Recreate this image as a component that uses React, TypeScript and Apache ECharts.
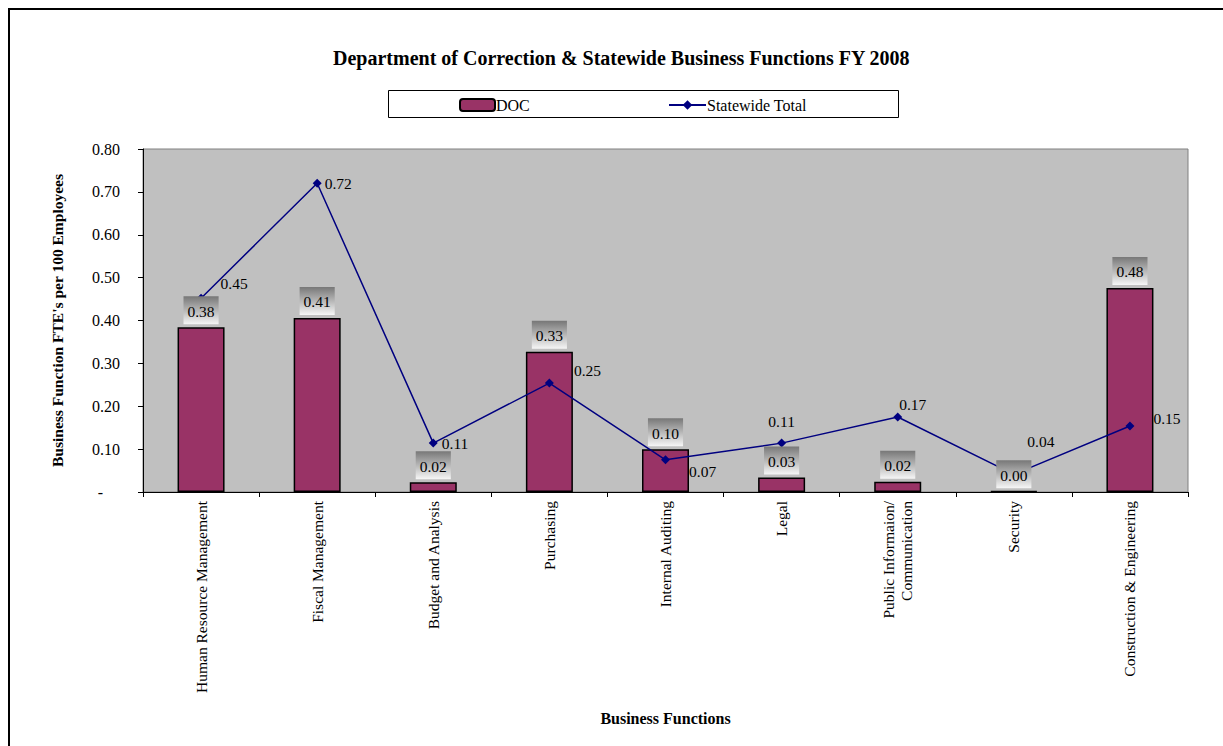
import React, { useEffect, useRef } from "react";
import * as echarts from "echarts";

const categories = [
  "Human Resource Management",
  "Fiscal Management",
  "Budget and Analysis",
  "Purchasing",
  "Internal Auditing",
  "Legal",
  "Public Informaion/\nCommunication",
  "Security",
  "Construction & Engineering",
];
const docValues = [0.384, 0.406, 0.023, 0.327, 0.1, 0.034, 0.024, 0.002, 0.476];
const statewideValues = [0.452, 0.72, 0.114, 0.254, 0.075, 0.114, 0.175, 0.041, 0.154];
const yTicks = [0, 0.1, 0.2, 0.3, 0.4, 0.5, 0.6, 0.7, 0.8];

// label placement for the line series (position, offset)
const lineLabelPlacement: [string, number[]][] = [
  ["right", [10, -15]],
  ["right", [-2, 0]],
  ["right", [-1, 0]],
  ["right", [15, -13]],
  ["right", [14, 12]],
  ["top", [0, -4]],
  ["top", [15, 5]],
  ["top", [27, -15]],
  ["right", [14, -7]],
];

const FONT = "'Liberation Serif', 'Times New Roman', serif";

export default function App() {
  const ref = useRef<HTMLDivElement>(null);
  useEffect(() => {
    if (!ref.current) return;
    const chart = echarts.init(ref.current, null, { renderer: "svg" });
    const grad = new echarts.graphic.LinearGradient(0, 0, 0, 1, [
      { offset: 0, color: "#777777" },
      { offset: 1, color: "#f6f6f6" },
    ]);
    chart.setOption({
      animation: false,
      backgroundColor: "#ffffff",
      textStyle: { fontFamily: FONT, color: "#000" },
      title: {
        text: "Department of Correction & Statewide Business Functions FY 2008",
        left: 328,
        top: 43,
        textStyle: { fontFamily: FONT, fontSize: 20, fontWeight: "bold", color: "#000" },
      },
      graphic: [
        {
          type: "rect",
          z: -10,
          shape: { x: 9, y: 9, width: 1300, height: 800 },
          style: { fill: "none", stroke: "#000", lineWidth: 2 },
        },
        {
          type: "rect",
          z: -10,
          shape: { x: 388.5, y: 90.5, width: 510, height: 27 },
          style: { fill: "#fff", stroke: "#000", lineWidth: 1 },
        },
      ],
      legend: [
        {
          data: ["DOC"],
          left: 459,
          top: 97,
          padding: 0,
          itemWidth: 35,
          itemHeight: 12,
          itemGap: 2,
          textStyle: { fontFamily: FONT, fontSize: 16, color: "#000", padding: [0, 0, 0, -4] },
        },
        {
          data: ["Statewide Total"],
          left: 668,
          top: 97,
          padding: 0,
          itemWidth: 37,
          itemHeight: 12,
          textStyle: { fontFamily: FONT, fontSize: 16, color: "#000", padding: [0, 0, 0, -4] },
        },
      ],
      grid: {
        left: 143,
        right: 35,
        top: 149,
        bottom: 254,
        show: true,
        backgroundColor: "#C0C0C0",
        borderColor: "#808080",
        borderWidth: 1,
      },
      xAxis: {
        type: "category",
        data: categories,
        name: "Business Functions",
        nameLocation: "middle",
        nameGap: 218,
        nameTextStyle: { fontFamily: FONT, fontSize: 16, fontWeight: "bold", color: "#000" },
        axisLine: { lineStyle: { color: "#000", width: 1 } },
        axisTick: { show: true, interval: 0, length: 5, lineStyle: { color: "#000" } },
        axisLabel: {
          interval: 0,
          rotate: 90,
          margin: 9,
          fontFamily: FONT,
          fontSize: 15.5,
          color: "#000",
          lineHeight: 18,
        },
      },
      yAxis: {
        type: "value",
        min: 0,
        max: 0.8,
        interval: 0.1,
        name: "Business Function FTE's per 100 Employees",
        nameLocation: "middle",
        nameRotate: 90,
        nameGap: 78,
        nameTextStyle: { fontFamily: FONT, fontSize: 15.5, fontWeight: "bold", color: "#000" },
        axisLine: { show: true, lineStyle: { color: "#000", width: 1 } },
        axisTick: { show: true, length: 5, lineStyle: { color: "#000" } },
        splitLine: { show: false },
        axisLabel: {
          margin: 23,
          fontFamily: FONT,
          fontSize: 16,
          color: "#000",
          formatter: (v: number) => {
            const t = yTicks.find((x) => Math.abs(x - v) < 1e-9);
            if (t === 0) return "{d|-}";
            return v.toFixed(2);
          },
          rich: { d: { fontFamily: FONT, fontSize: 16, color: "#000", padding: [0, 17, 0, 0] } },
        },
      },
      series: [
        {
          name: "DOC",
          type: "bar",
          data: docValues,
          barWidth: 47,
          itemStyle: { color: "#993366", borderColor: "#000", borderWidth: 1.5 },
          z: 2,
        },
        {
          name: "Statewide Total",
          type: "line",
          data: statewideValues.map((v, i) => ({
            value: v,
            label: {
              position: lineLabelPlacement[i][0],
              offset: lineLabelPlacement[i][1],
            },
          })),
          symbol: "diamond",
          symbolSize: 9,
          lineStyle: { color: "#000080", width: 1.5 },
          itemStyle: { color: "#000080" },
          label: {
            show: true,
            formatter: (p: any) => p.value.toFixed(2),
            fontFamily: FONT,
            fontSize: 15.5,
            color: "#000",
          },
          z: 3,
        },
        {
          name: "DOC labels",
          type: "bar",
          data: docValues,
          barWidth: 47,
          barGap: "-100%",
          silent: true,
          itemStyle: { color: "rgba(0,0,0,0)", borderWidth: 0 },
          label: {
            show: true,
            position: "top",
            distance: 3,
            formatter: (p: any) => p.value.toFixed(2),
            fontFamily: FONT,
            fontSize: 15.5,
            color: "#000",
            backgroundColor: grad,
            padding: [7, 4, 5, 4],
          },
          z: 5,
        },
      ],
    });
    return () => chart.dispose();
  }, []);
  return (
    <div
      ref={ref}
      style={{ position: "absolute", left: 0, top: 0, width: 1223, height: 746 }}
    />
  );
}
